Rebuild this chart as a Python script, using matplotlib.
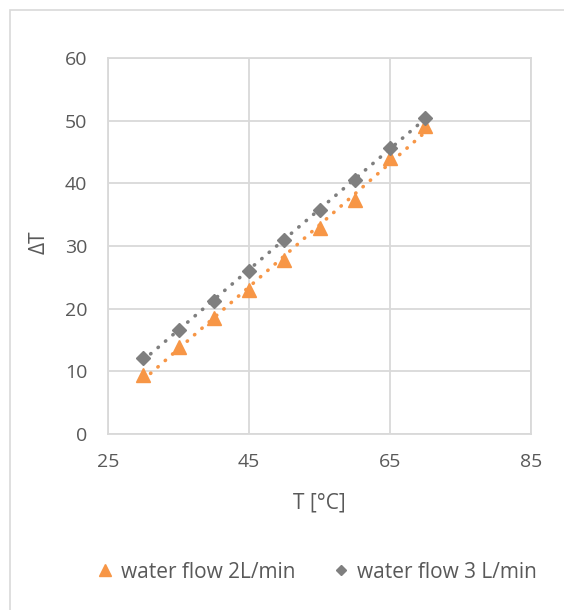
import numpy as np
import matplotlib
matplotlib.use("Agg")
import matplotlib.pyplot as plt
from matplotlib.patches import Rectangle

# data
temps = [30, 35, 40, 45, 50, 55, 60, 65, 70]
dT_2L = [9.4, 13.9, 18.5, 23.0, 27.7, 32.8, 37.3, 44.0, 49.1]
dT_3L = [12.1, 16.6, 21.3, 26.0, 30.9, 35.8, 40.6, 45.6, 50.5]
labels = ["water flow 2L/min", "water flow 3 L/min"]
xticks = [25, 45, 65, 85]
yticks = [0, 10, 20, 30, 40, 50, 60]

plt.rcParams['font.family'] = ['Open Sans', 'DejaVu Sans']
txt = '#595959'
orange = '#F79646'
gray = '#7F7F7F'

W, H = 564, 610
fig = plt.figure(figsize=(W / 100, H / 100), dpi=100)
# outer chart border (clipped on right and bottom like the reference)
fig.patches.append(Rectangle((10 / W, -0.1), 1.2, 1 - 10 / H + 0.1,
                             transform=fig.transFigure, fill=False,
                             edgecolor='#D9D9D9', linewidth=1.2))

ax = fig.add_axes([108 / W, 1 - 434 / H, (531 - 108) / W, (434 - 58) / H])
ax.set_xlim(25, 85)
ax.set_ylim(0, 60)
ax.set_xticks(xticks)
ax.set_yticks(yticks)
ax.grid(True, color='#D9D9D9', linewidth=1.3)
ax.set_axisbelow(True)
for s in ax.spines.values():
    s.set_color('#D9D9D9')
    s.set_linewidth(1.3)
ax.tick_params(length=0, labelsize=14, labelcolor=txt)
ax.tick_params(axis='x', pad=14)
ax.tick_params(axis='y', pad=15)

x = np.array(temps)
for y, m, c, ms, lab in [(dT_2L, '^', orange, 10, labels[0]),
                         (dT_3L, 'D', gray, 7, labels[1])]:
    k, b = np.polyfit(x, y, 1)
    ax.plot(x, k * x + b, color=c, linestyle=(0, (0.1, 2.6)), linewidth=2.6,
            dash_capstyle='round', zorder=2)
    ax.plot(x, y, linestyle='none', marker=m, markersize=ms, color=c,
            label=lab, zorder=3)

ax.set_xlabel("T [°C]", fontsize=15, color=txt)
ax.set_ylabel("ΔT", fontsize=15, color=txt)
ax.xaxis.set_label_coords(0.5, -(493 - 434) / 376)
ax.yaxis.set_label_coords(-(108 - 50) / 423, (434 - 242) / 376)

fig.legend(loc='center', bbox_to_anchor=(318 / W, 1 - 572 / H), ncol=2,
           frameon=False, fontsize=15, labelcolor=txt, handlelength=0.6,
           handletextpad=0.45, columnspacing=1.9, markerscale=0.8)

fig.savefig("out.png", dpi=100)
